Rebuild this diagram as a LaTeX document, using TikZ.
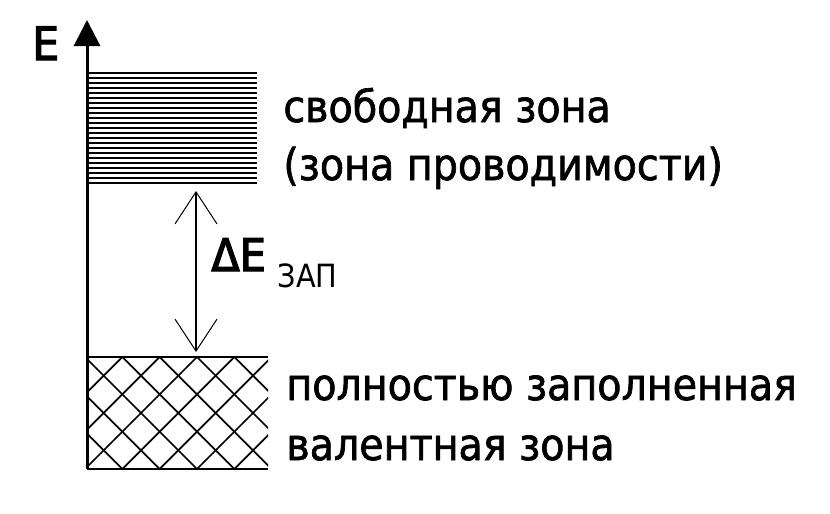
\documentclass[tikz,border=0pt]{standalone}
\usepackage{fontspec}
\setmainfont{DejaVu Sans}[FakeStretch=0.9,FakeBold=1.5]
\newfontfamily\thinfont{DejaVu Sans}[FakeStretch=0.9]
\newfontfamily\heavyfont{DejaVu Sans}[FakeStretch=0.92,FakeBold=3]
\usetikzlibrary{arrows.meta,positioning}
\tikzset{
	thick,
	>=latex,
	axis/.style={line width=1.5pt, -{Triangle[width=13pt,length=13pt]}},
	band/.style={line width=1.4pt},
	edgeline/.style={line width=1pt},
	hatch/.style={line width=0.85pt},
	gap/.style={line width=1pt, {Straight Barb[length=16pt,width=21pt,line width=0.5pt]}-{Straight Barb[length=16pt,width=21pt,line width=0.5pt]}},
	lbl/.style={anchor=base west, inner sep=0pt, font=\fontsize{22}{28}\selectfont}
}

\begin{document}
\begin{tikzpicture}[x=0.5pt,y=-0.5pt]
	\useasboundingbox (0,0) rectangle (830,514);
	\fill[white] (0,0) rectangle (830,514);

	\foreach \i in {0,...,22} {
		\draw[band] (87,73+\i*5) -- (257,73+\i*5);
	}

	\begin{scope}
		\clip (87,357) rectangle (268,469);
		\foreach \k in {-3,...,8} {
			\draw[hatch] (85+\k*37.33,357) -- ++(112,112);
			\draw[hatch] (85+\k*37.33,357) -- ++(-112,112);
		}
	\end{scope}
	\draw[edgeline] (87,357) -- (268,357);
	\draw[edgeline] (87,469) -- (268,469);

	\coordinate (origin) at (87,469);
	\coordinate (top) at (87,20);
	\draw[axis] (origin) -- (top);
	\node[lbl, font=\fontsize{23}{27}\heavyfont] (E) at (32,60) {E};

	\coordinate (gtop) at (196,191);
	\coordinate (gbot) at (196,352);
	\draw[gap] (gtop) -- (gbot);

	\node[lbl, font=\fontsize{22.5}{25}\heavyfont] (dE) at (211,271) {ΔE};
	\node[lbl, font=\fontsize{16}{18}\thinfont] (zap) at ([xshift=5.5pt,yshift=-8pt]dE.base east) {ЗАП};

	\node[lbl] (free) at (283,122) {свободная зона};
	\node[lbl] (cond) at (283,180) {(зона проводимости)};
	\node[lbl] (full) at (286,400) {полностью заполненная};
	\node[lbl] (val) at (286,460) {валентная зона};
\end{tikzpicture}
\end{document}
